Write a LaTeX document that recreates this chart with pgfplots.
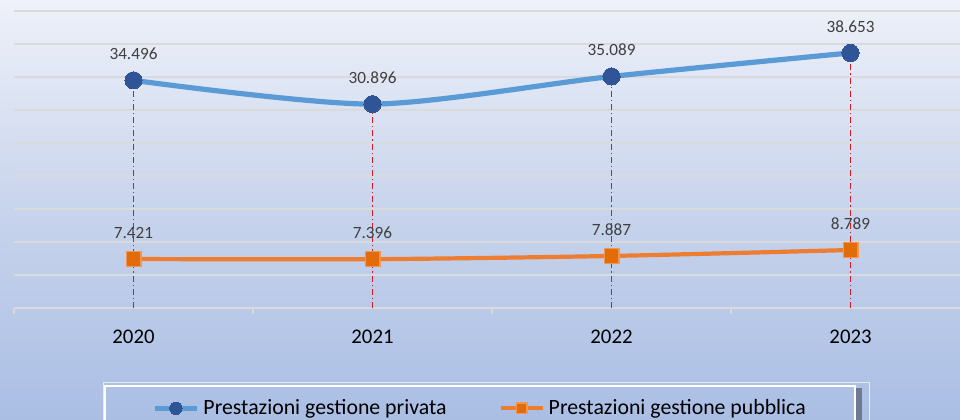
\documentclass[border=0pt]{standalone}
\usepackage{pgfplots}
\pgfplotsset{compat=1.18}
\usepackage{fontspec}
\setmainfont{Carlito}
\definecolor{bgtop}{RGB}{238,241,249}
\definecolor{bgmid}{RGB}{200,212,236}
\definecolor{bgbot}{RGB}{170,190,228}
\definecolor{gridc}{RGB}{216,218,222}
\definecolor{blueline}{RGB}{91,155,213}
\definecolor{bluemark}{RGB}{47,85,151}
\definecolor{orangeline}{RGB}{237,125,49}
\definecolor{orangemark}{RGB}{226,107,10}
\definecolor{orangeedge}{RGB}{244,150,80}
\definecolor{combred}{RGB}{215,25,35}
\definecolor{labgrey}{RGB}{64,64,64}
\begin{document}
\begin{tikzpicture}
\useasboundingbox (0,0) rectangle (480pt,209.5pt);
\clip (0,0) rectangle (480pt,209.5pt);
\shade[top color=bgtop, bottom color=bgbot, middle color=bgmid] (0,0) rectangle (480pt,209.5pt);
% legend frame
\draw[white!70!bgbot, line width=0.5pt] (51.5pt,-5pt) -- (51.5pt,18.5pt) -- (434.5pt,18.5pt) -- (434.5pt,-5pt);
\fill[black!45!bgbot, opacity=0.8] (427.5pt,-5pt) rectangle (431pt,15.5pt);
\draw[white, line width=0.9pt] (52.5pt,-5pt) -- (52.5pt,16.5pt) -- (427.5pt,16.5pt) -- (427.5pt,-5pt);
\begin{axis}[
  at={(7pt,55.5pt)}, anchor=south west,
  scale only axis, width=473pt, height=154pt,
  xmin=-0.5, xmax=3.458, ymin=0, ymax=46.67,
  axis line style={draw=none},
  tick pos=left,
  xtick={0,1,2,3}, xticklabels={2020,2021,2022,2023},
  major tick length=0pt,
  minor xtick={-0.5,0.5,1.5,2.5},
  minor tick length=3pt,
  tick align=outside,
  minor tick style={gridc, line width=1pt},
  ytick={0,5,...,45}, yticklabels={},
  ytick style={draw=none},
  ymajorgrids, grid style={gridc, line width=0.9pt},
  xticklabel style={anchor=base, yshift=-17.5pt, font=\fontsize{10.4}{12}\selectfont, text=black},
  /pgf/number format/assume math mode=true,
  clip=false,
  legend columns=2,
  legend style={at={(axis description cs:0.4937,-0.269)}, anchor=north, draw=none, fill=none,
    font=\fontsize{10.9}{13}\selectfont,
    /tikz/every even column/.append style={column sep=24pt}},
  legend image code/.code={\draw[mark repeat=2,mark phase=2,#1, every mark/.append style={scale=0.72}] plot coordinates {(0pt,0pt) (10.5pt,0pt) (21pt,0pt)};},
  every node near coord/.append style={anchor=base, yshift=10.3pt, text=labgrey, font=\fontsize{8.6}{10}\selectfont},
]
\addplot[blueline, line width=2.6pt, smooth, tension=0.45,
  mark=*, mark size=4.3pt, mark options={fill=bluemark, draw=bluemark, line width=0pt},
  nodes near coords, point meta=explicit symbolic]
  coordinates {(0,34.496) [34.496] (1,30.896) [30.896] (2,35.089) [35.089] (3,38.653) [38.653]};
\addlegendentry{Prestazioni gestione privata}
\addplot[orangeline, line width=2.1pt, smooth, tension=0.45,
  mark=square*, mark size=3.7pt, mark options={fill=orangemark, draw=orangeedge, line width=0.6pt},
  nodes near coords, point meta=explicit symbolic]
  coordinates {(0,7.421) [7.421] (1,7.396) [7.396] (2,7.887) [7.887] (3,8.789) [8.789]};
\addlegendentry{Prestazioni gestione pubblica}
\addplot[ycomb, combred, line width=0.7pt, dash pattern=on 3pt off 1.5pt on 0.6pt off 1.5pt, forget plot]
  coordinates {(0,34.496) (1,30.896) (2,35.089) (3,38.653)};
\end{axis}
\end{tikzpicture}
\end{document}
